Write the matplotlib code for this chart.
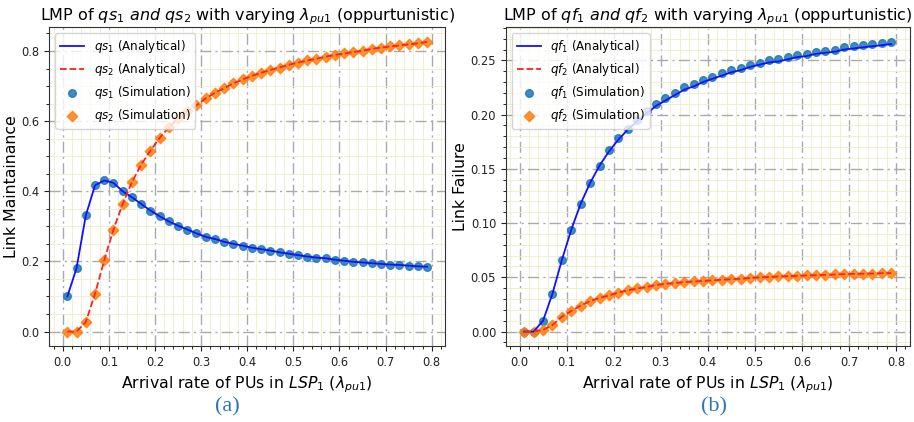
import matplotlib
matplotlib.use("Agg")
import matplotlib.pyplot as plt
import numpy as np

# ---- data ----
lam = [0.01, 0.03, 0.05, 0.07, 0.09, 0.11, 0.13, 0.15, 0.17, 0.19,
       0.21, 0.23, 0.25, 0.27, 0.29, 0.31, 0.33, 0.35, 0.37, 0.39,
       0.41, 0.43, 0.45, 0.47, 0.49, 0.51, 0.53, 0.55, 0.57, 0.59,
       0.61, 0.63, 0.65, 0.67, 0.69, 0.71, 0.73, 0.75, 0.77, 0.79]

qs1 = [0.100, 0.181, 0.331, 0.417, 0.431, 0.424, 0.400, 0.383, 0.364, 0.345,
       0.329, 0.314, 0.302, 0.291, 0.280, 0.270, 0.264, 0.256, 0.250, 0.245,
       0.239, 0.235, 0.231, 0.226, 0.222, 0.218, 0.214, 0.211, 0.209, 0.205,
       0.202, 0.199, 0.197, 0.195, 0.193, 0.191, 0.190, 0.188, 0.186, 0.185]

qs2 = [0.000, 0.000, 0.027, 0.108, 0.203, 0.291, 0.364, 0.426, 0.476, 0.516,
       0.552, 0.582, 0.608, 0.628, 0.645, 0.665, 0.681, 0.694, 0.708, 0.719,
       0.729, 0.738, 0.746, 0.753, 0.761, 0.767, 0.773, 0.778, 0.784, 0.789,
       0.793, 0.797, 0.801, 0.806, 0.810, 0.813, 0.816, 0.819, 0.822, 0.826]

qf1 = [0.000, 0.000, 0.010, 0.035, 0.066, 0.094, 0.118, 0.137, 0.153, 0.167,
       0.178, 0.187, 0.195, 0.203, 0.210, 0.215, 0.220, 0.225, 0.228, 0.232,
       0.235, 0.238, 0.241, 0.243, 0.246, 0.248, 0.250, 0.251, 0.253, 0.255,
       0.256, 0.258, 0.259, 0.260, 0.262, 0.263, 0.264, 0.265, 0.266, 0.267]

qf1_analytical = [0.000, 0.000, 0.010, 0.035, 0.066, 0.094, 0.118, 0.137, 0.153, 0.166,
                  0.177, 0.186, 0.194, 0.201, 0.208, 0.213, 0.218, 0.223, 0.226, 0.230,
                  0.233, 0.236, 0.239, 0.241, 0.244, 0.246, 0.248, 0.249, 0.251, 0.253,
                  0.254, 0.256, 0.257, 0.258, 0.260, 0.261, 0.262, 0.263, 0.264, 0.265]

qf2 = [0.000, 0.000, 0.0015, 0.006, 0.0137, 0.019, 0.024, 0.028, 0.031, 0.0333,
       0.036, 0.038, 0.0397, 0.041, 0.0430, 0.0440, 0.0447, 0.0456, 0.0462, 0.0466,
       0.0472, 0.0478, 0.0482, 0.0487, 0.0493, 0.0500, 0.0503, 0.0508, 0.0511, 0.0514,
       0.0517, 0.0520, 0.0523, 0.0526, 0.0529, 0.0532, 0.0533, 0.0535, 0.0538, 0.0539]

xticks = [0.0, 0.1, 0.2, 0.3, 0.4, 0.5, 0.6, 0.7, 0.8]

xlabel = r'Arrival rate of PUs in $LSP_1$ ($\lambda_{pu1}$)'

plt.rcParams['font.family'] = ['DejaVu Sans']

fig = plt.figure(figsize=(9.14, 4.22), dpi=100)
axL = fig.add_axes([0.054, 0.180, 0.433, 0.755])
axR = fig.add_axes([0.5535, 0.180, 0.4417, 0.755])


def style(ax):
    ax.minorticks_on()
    ax.grid(which='major', color='#aaaaaa', linewidth=1.0, zorder=0,
            dashes=(8, 3, 1.5, 3))
    ax.grid(which='minor', color='#ececcc', linestyle='-', linewidth=0.6, zorder=0)
    ax.set_axisbelow(True)
    ax.tick_params(labelsize=8.3, colors='#222222')
    ax.set_xticks(xticks)
    for s in ax.spines.values():
        s.set_color('#333333')


# ---- left ----
axL.scatter(lam, qs1, marker='o', color='#1f77b4', s=30, alpha=0.85,
            label=r'$qs_1$ (Simulation)', zorder=3)
axL.scatter(lam, qs2, marker='D', color='#ff7f0e', s=28, alpha=0.85,
            label=r'$qs_2$ (Simulation)', zorder=3)
axL.plot(lam, qs1, color='#1010ff', linewidth=1.3, label=r'$qs_1$ (Analytical)', zorder=4)
axL.plot(lam, qs2, color='#ff2020', linestyle='--', linewidth=1.3,
         label=r'$qs_2$ (Analytical)', zorder=4)
style(axL)
axL.set_yticks([0.0, 0.2, 0.4, 0.6, 0.8])
axL.set_title(r'LMP of $qs_1\ and\ qs_2$ with varying $\lambda_{pu1}$ (oppurtunistic)',
              fontsize=11.5, pad=4)
axL.set_xlabel(xlabel, fontsize=11.3)
axL.set_ylabel('Link Maintainance', fontsize=11.3, labelpad=2)
h, l = axL.get_legend_handles_labels()
order = [2, 3, 0, 1]
axL.legend([h[i] for i in order], [l[i] for i in order], loc='upper left',
           fontsize=8.6, framealpha=0.8)

# ---- right ----
axR.scatter(lam, qf1, marker='o', color='#1f77b4', s=30, alpha=0.85,
            label=r'$qf_1$ (Simulation)', zorder=3)
axR.scatter(lam, qf2, marker='D', color='#ff7f0e', s=28, alpha=0.85,
            label=r'$qf_2$ (Simulation)', zorder=3)
axR.plot(lam, qf1_analytical, color='#1010ff', linewidth=1.3,
         label=r'$qf_1$ (Analytical)', zorder=4)
axR.plot(lam, qf2, color='#ff2020', linestyle='--', linewidth=1.3,
         label=r'$qf_2$ (Analytical)', zorder=4)
style(axR)
axR.set_yticks([0.00, 0.05, 0.10, 0.15, 0.20, 0.25])
axR.set_yticklabels(['0.00', '0.05', '0.10', '0.15', '0.20', '0.25'])
axR.set_title(r'LMP of $qf_1\ and\ qf_2$ with varying $\lambda_{pu1}$ (oppurtunistic)',
              fontsize=11.5, pad=4)
axR.set_xlabel(xlabel, fontsize=11.3)
axR.set_ylabel('Link Failure', fontsize=11.3, labelpad=2)
h, l = axR.get_legend_handles_labels()
axR.legend([h[i] for i in order], [l[i] for i in order], loc='upper left',
           fontsize=8.6, framealpha=0.8)

fig.text(0.249, 0.025, '(a)', fontsize=16, color='#2e75b6',
         family='Liberation Serif', ha='center')
fig.text(0.781, 0.025, '(b)', fontsize=16, color='#2e75b6',
         family='Liberation Serif', ha='center')

fig.savefig('out.png', dpi=100)
